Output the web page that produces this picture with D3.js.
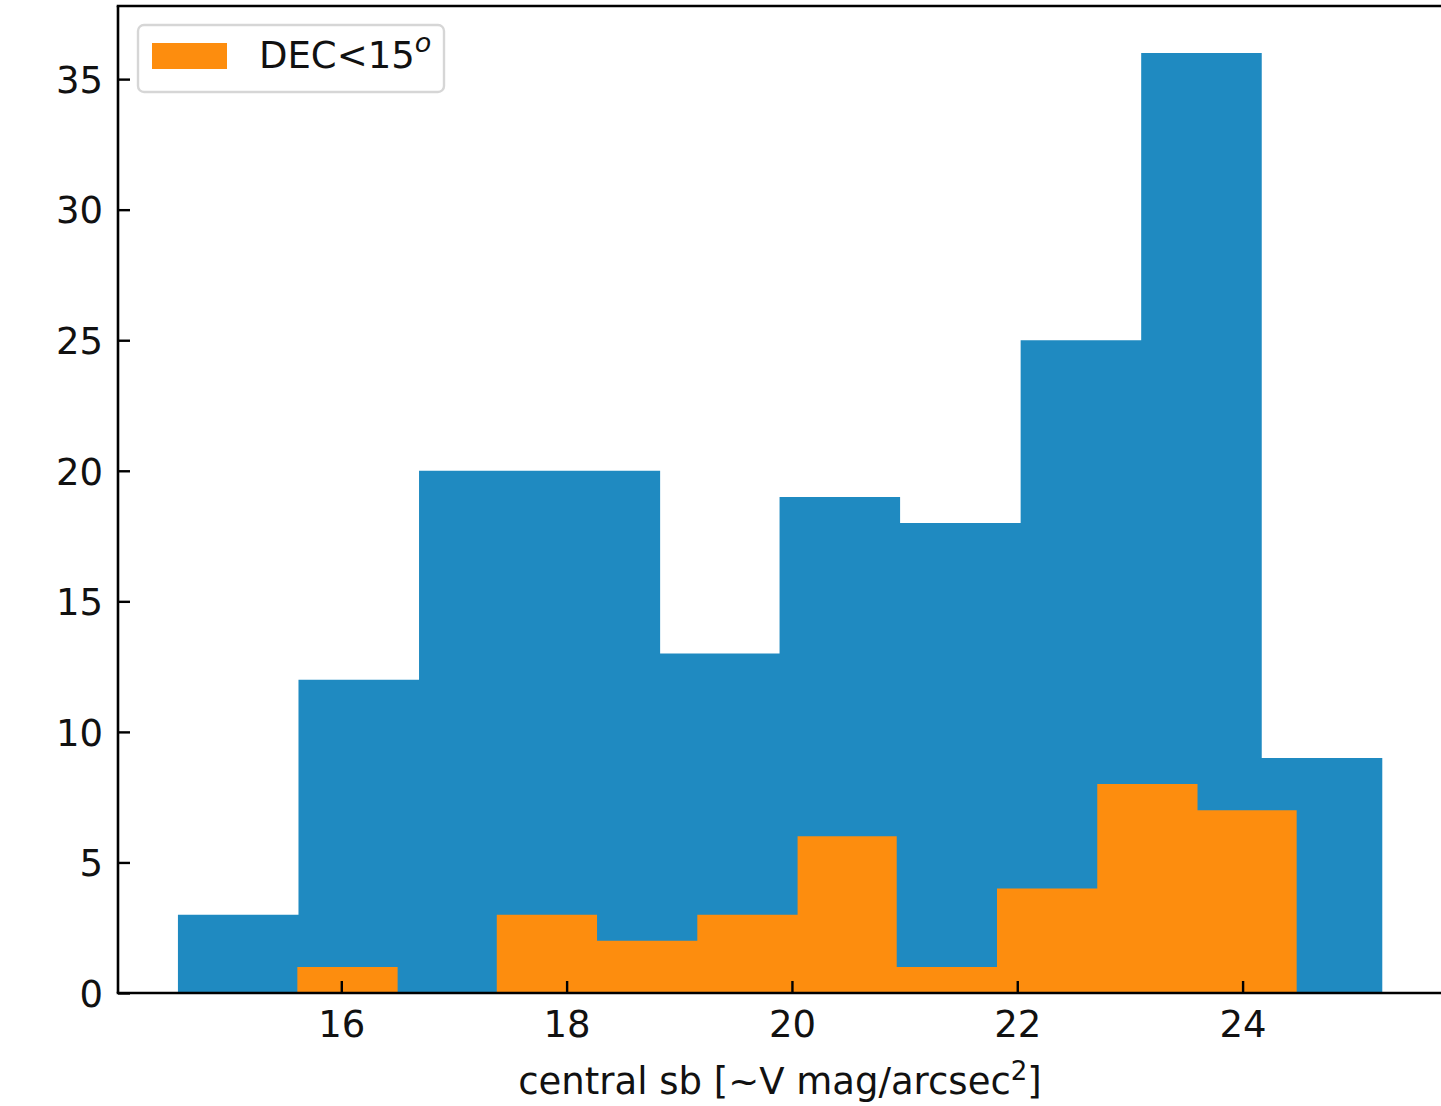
<!DOCTYPE html>
<html>
<head>
<meta charset="utf-8">
<script src="https://cdn.jsdelivr.net/npm/d3@7"></script>
<style>
  html, body { margin: 0; padding: 0; background: #fff; }
  svg { display: block; }
  text { font-family: "DejaVu Sans", sans-serif; fill: #111; }
</style>
</head>
<body>
<svg id="chart" width="1441" height="1106"></svg>
<script>
// Histogram of central surface brightness: full sample and the DEC<15° subset
const allEdges = [14.55, 15.62, 16.69, 17.76, 18.83, 19.89, 20.96, 22.03, 23.10, 24.17, 25.24];
const allCounts = [3, 12, 20, 20, 13, 19, 18, 25, 36, 9];

const decEdges = [15.61, 16.50, 17.38, 18.27, 19.16, 20.05, 20.93, 21.82, 22.71, 23.60, 24.48];
const decCounts = [1, 0, 3, 2, 3, 6, 1, 4, 8, 7];

const xTicks = [16, 18, 20, 22, 24];
const yTicks = [0, 5, 10, 15, 20, 25, 30, 35];

const xDomain = [14.018, 25.77];
const yDomain = [0, 37.8];

const blue = "#1f8ac1";
const orange = "#fd8d0e";

const svg = d3.select("#chart");
const plotLeft = 118, plotRight = 1442, plotTop = 6, plotBottom = 993;

const x = d3.scaleLinear().domain(xDomain).range([plotLeft, plotRight]);
const y = d3.scaleLinear().domain(yDomain).range([plotBottom, plotTop]);

// Step points: each edge carries the count of the bin that starts there;
// the final edge repeats the last count to close the last bin.
function steps(edges, counts) {
  return edges.map((e, i) => ({ x: e, n: counts[Math.min(i, counts.length - 1)] }));
}

const area = d3.area()
  .x(d => x(d.x))
  .y0(y(0))
  .y1(d => y(d.n))
  .curve(d3.curveStepAfter);

const plot = svg.append("g");

plot.append("path")
  .datum(steps(allEdges, allCounts))
  .attr("d", area)
  .attr("fill", blue);

plot.append("path")
  .datum(steps(decEdges, decCounts))
  .attr("d", area)
  .attr("fill", orange);

// Axes with inward ticks
const tickSize = 12;
const xAxis = d3.axisBottom(x).tickValues(xTicks).tickSizeInner(-tickSize).tickSizeOuter(0).tickPadding(18);
const yAxis = d3.axisLeft(y).tickValues(yTicks).tickSizeInner(-tickSize).tickSizeOuter(0).tickPadding(15);

const gx = svg.append("g").attr("transform", `translate(0,${plotBottom})`).call(xAxis);
const gy = svg.append("g").attr("transform", `translate(${plotLeft},0)`).call(yAxis);

[gx, gy].forEach(g => {
  g.select(".domain").remove();
  g.selectAll(".tick line").attr("stroke", "#000").attr("stroke-width", 2.4);
  g.selectAll(".tick text")
    .style("font-family", "'DejaVu Sans', sans-serif")
    .style("font-size", "37px")
    .attr("fill", "#111");
});
gx.selectAll(".tick text").attr("dy", "0.71em");
gy.selectAll(".tick text").attr("dy", "0.36em");

// Spines: left, bottom, top
svg.append("line").attr("x1", plotLeft).attr("x2", plotLeft).attr("y1", plotTop).attr("y2", plotBottom)
  .attr("stroke", "#000").attr("stroke-width", 2.6);
svg.append("line").attr("x1", plotLeft - 1.3).attr("x2", plotRight).attr("y1", plotBottom).attr("y2", plotBottom)
  .attr("stroke", "#000").attr("stroke-width", 2.6);
svg.append("line").attr("x1", plotLeft - 1.3).attr("x2", plotRight).attr("y1", plotTop).attr("y2", plotTop)
  .attr("stroke", "#000").attr("stroke-width", 2.6);

// X label with superscript
const xl = svg.append("text")
  .attr("x", (plotLeft + plotRight) / 2)
  .attr("y", 1094)
  .attr("text-anchor", "middle")
  .style("font-size", "37px");
xl.append("tspan").text("central sb [~V mag/arcsec");
xl.append("tspan").attr("dy", -14).style("font-size", "26px").text("2");
xl.append("tspan").attr("dy", 14).text("]");

// Legend
const lg = svg.append("g");
lg.append("rect")
  .attr("x", 138).attr("y", 25).attr("width", 306).attr("height", 67)
  .attr("rx", 6).attr("ry", 6)
  .attr("fill", "#fff").attr("fill-opacity", 0.8)
  .attr("stroke", "#d6d6d6").attr("stroke-width", 2.4);
lg.append("rect")
  .attr("x", 152).attr("y", 43).attr("width", 75).attr("height", 26)
  .attr("fill", orange);
const lt = lg.append("text")
  .attr("x", 259).attr("y", 68)
  .style("font-size", "37px");
lt.append("tspan").text("DEC<15");
lt.append("tspan").attr("dy", -16).style("font-size", "27px").style("font-style", "italic").text("o");
</script>
</body>
</html>
